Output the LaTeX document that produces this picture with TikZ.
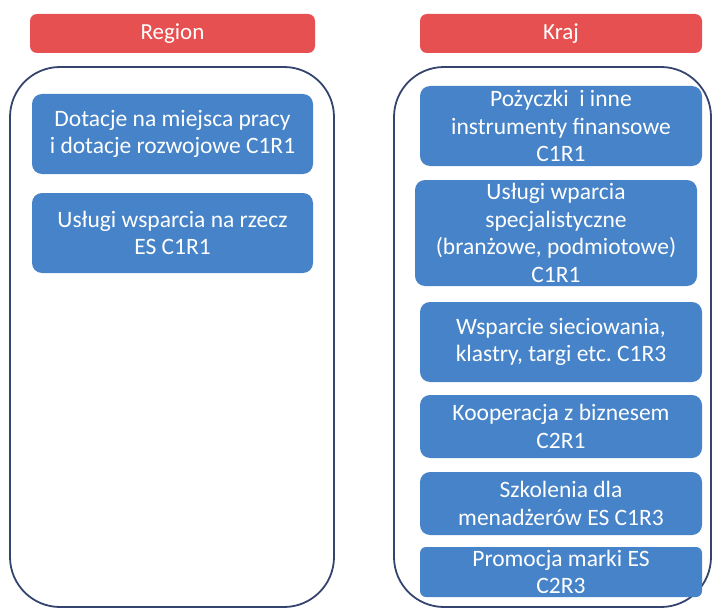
\documentclass[tikz,border=0pt]{standalone}
\usepackage{fontspec}
\setmainfont{Carlito}
\frenchspacing
\definecolor{hdrred}{HTML}{E65050}
\definecolor{boxblue}{HTML}{4683C8}
\definecolor{frameblue}{HTML}{34446F}
\tikzset{
  hdr/.style={fill=hdrred, rounded corners=7pt, text=white, align=center, inner sep=0pt,
    minimum height=39pt, font=\fontsize{23}{27}\selectfont},
  item/.style={fill=boxblue, rounded corners=10pt, text=white, align=center, inner sep=0pt,
    font=\fontsize{23.5}{27.5}\selectfont},
  frame/.style={draw=frameblue, line width=1.8pt, rounded corners=50pt}
}
\begin{document}
\begin{tikzpicture}[x=1pt,y=-1pt]
\useasboundingbox (0,0) rectangle (713,610);
% outer frames
\draw[frame] (10,67) rectangle (334,607);
\draw[frame] (394,67) rectangle (711,607);
% headers
\node[hdr, minimum width=285pt] (region) at (172.5,33.5) {Region};
\node[hdr, minimum width=282pt] (kraj) at (561,33.5) {Kraj};
% left items
\node[item, minimum width=281pt, minimum height=80pt] (d1) at (172.5,134) {Dotacje na miejsca pracy\\i dotacje rozwojowe C1R1};
\node[item, minimum width=281pt, minimum height=80pt] (d2) at (172.5,233) {Usługi wsparcia na rzecz\\ES C1R1};
% right items
\node[item, minimum width=282pt, minimum height=80pt] (p1) at (561,126) {Pożyczki\ \ i inne\\instrumenty finansowe\\C1R1};
\node[item, minimum width=282pt, minimum height=106pt] (p2) at (556,233) {Usługi wparcia\\specjalistyczne\\(branżowe, podmiotowe)\\C1R1};
\node[item, minimum width=282pt, minimum height=80pt] (p3) at (561,342) {Wsparcie sieciowania,\\klastry, targi etc. C1R3};
\node[item, minimum width=282pt, minimum height=63pt] (p4) at (561,426.5) {Kooperacja z biznesem\\C2R1};
\node[item, minimum width=282pt, minimum height=63pt] (p5) at (561,503.5) {Szkolenia dla\\menadżerów ES C1R3};
\node[item, minimum width=282pt, minimum height=50pt, rounded corners=6pt] (p6) at (561,572) {Promocja marki ES\\C2R3};
\end{tikzpicture}
\end{document}
